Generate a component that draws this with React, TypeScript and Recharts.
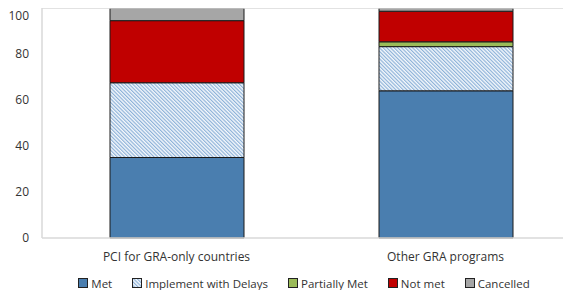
import React from "react";
import { BarChart, Bar, XAxis, YAxis, Legend, ReferenceLine } from "recharts";

const categories = ["PCI for GRA-only countries", "Other GRA programs"];
const met = [35, 64];
const delays = [32.5, 19.2];
const partiallyMet = [0, 2.1];
const notMet = [27, 13.3];
const cancelled = [5.5, 1.4];
const yTicks = [0, 20, 40, 60, 80, 100];

const seriesNames = ["Met", "Implement with Delays", "Partially Met", "Not met", "Cancelled"];
const seriesKeys = ["met", "delays", "partiallyMet", "notMet", "cancelled"];
const seriesFills = ["#4A7EAF", "url(#hatch)", "#9BBB59", "#C00000", "#A6A6A6"];

const data = categories.map((c, i) => ({
  name: c,
  met: met[i],
  delays: delays[i],
  partiallyMet: partiallyMet[i],
  notMet: notMet[i],
  cancelled: cancelled[i],
}));

const FONT = "'Open Sans', 'Noto Sans', sans-serif";

const HatchPattern = ({ id }: { id: string }) => (
  <pattern id={id} width="2.6" height="2.6" patternUnits="userSpaceOnUse" patternTransform="rotate(-45)">
    <rect width="2.6" height="2.6" fill="#F4F8FC" />
    <line x1="0.6" y1="0" x2="0.6" y2="2.6" stroke="#86ADD6" strokeWidth="1.1" />
  </pattern>
);

const LegendContent = () => (
  <div
    style={{
      display: "flex",
      justifyContent: "center",
      alignItems: "center",
      fontFamily: FONT,
      fontSize: 11.5,
      color: "#333",
      gap: 20,
      height: 22,
      marginTop: 4,
      paddingLeft: 20,
    }}
  >
    {seriesNames.map((n, i) => (
      <div key={n} style={{ display: "flex", alignItems: "center" }}>
        <svg width={10} height={10} style={{ marginRight: 3 }}>
          <defs>
            <HatchPattern id={"lh" + i} />
          </defs>
          <rect x={0.5} y={0.5} width={9} height={9} fill={i === 1 ? "url(#lh1)" : seriesFills[i]} stroke="#222" strokeWidth={1} />
        </svg>
        <span>{n}</span>
      </div>
    ))}
  </div>
);

export default function App() {
  return (
    <div style={{ width: 563, height: 282, overflow: "hidden" }}>
      <BarChart width={572} height={282} data={data} margin={{ top: 0, right: 0, left: 0, bottom: 0 }}>
        <defs>
          <HatchPattern id="hatch" />
        </defs>
        <XAxis
          dataKey="name"
          height={30}
          tickLine={false}
          tickSize={0}
          tickMargin={14}
          axisLine={{ stroke: "#D9D9D9", strokeWidth: 1.5 }}
          tick={{ fill: "#333", fontSize: 12, fontFamily: FONT }}
        />
        <YAxis
          width={34}
          domain={[0, 100]}
          ticks={yTicks}
          tickLine={false}
          tickSize={0}
          tickMargin={13}
          axisLine={{ stroke: "#D9D9D9", strokeWidth: 1.5 }}
          tick={{ fill: "#333", fontSize: 12, fontFamily: FONT }}
        />
        <ReferenceLine y={100} stroke="#D9D9D9" strokeWidth={1.5} />
        <Legend verticalAlign="bottom" height={22} content={<LegendContent />} />
        {seriesKeys.map((k, i) => (
          <Bar
            key={k}
            dataKey={k}
            name={seriesNames[i]}
            stackId="a"
            fill={seriesFills[i]}
            stroke="#1a1a1a"
            strokeWidth={1}
            barSize={134}
            isAnimationActive={false}
          />
        ))}
      </BarChart>
    </div>
  );
}
